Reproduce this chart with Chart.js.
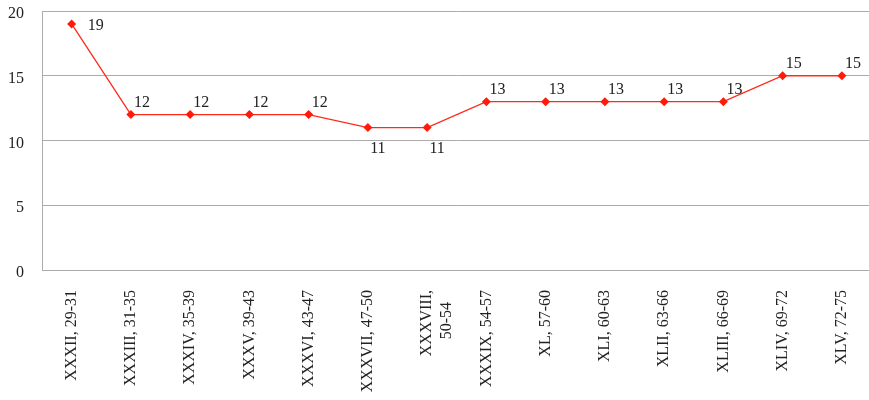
<!DOCTYPE html>
<html>
<head>
<meta charset="utf-8">
<script src="https://cdn.jsdelivr.net/npm/chart.js@4/dist/chart.umd.min.js"></script>
<style>
  html, body { margin: 0; padding: 0; background: #fff; overflow: hidden; }
  #wrap { width: 876px; height: 400px; }
</style>
</head>
<body>
<div id="wrap"><canvas id="chart" width="876" height="400"></canvas></div>
<script>
// Periods (book, years) along the horizontal axis
const categories = [
  'XXXII, 29-31', 'XXXIII, 31-35', 'XXXIV, 35-39', 'XXXV, 39-43', 'XXXVI, 43-47',
  'XXXVII, 47-50', ['XXXVIII,', '50-54   '], 'XXXIX, 54-57', 'XL, 57-60', 'XLI, 60-63',
  'XLII, 63-66', 'XLIII, 66-69', 'XLIV, 69-72', 'XLV, 72-75'
];
// Count per period
const values = [19, 12, 12, 12, 12, 11, 11, 13, 13, 13, 13, 13, 15, 15];
// Vertical axis ticks
const yTicks = [0, 5, 10, 15, 20];

const serif = "'Liberation Serif', 'Times New Roman', serif";
const gridGray = '#ababab';

// Writes each point's value next to its marker
const valueLabels = {
  id: 'valueLabels',
  afterDatasetsDraw(chart) {
    const ctx = chart.ctx;
    const meta = chart.getDatasetMeta(0);
    const ds = chart.data.datasets[0].data;
    const minVal = Math.min(...ds);
    ctx.save();
    ctx.font = '16px ' + serif;
    ctx.fillStyle = '#222';
    ctx.textAlign = 'center';
    ctx.textBaseline = 'middle';
    meta.data.forEach((pt, i) => {
      const v = ds[i];
      let dx = 11, dy = -12;
      if (i === 0) { dx = 24; dy = 2; }
      else if (v === minVal) { dx = 10; dy = 21; }
      ctx.fillText(String(v), pt.x + dx, pt.y + dy);
    });
    ctx.restore();
  }
};

new Chart(document.getElementById('chart'), {
  type: 'line',
  data: {
    labels: categories,
    datasets: [{
      data: values,
      borderColor: '#ff2a1a',
      backgroundColor: '#ff1a0a',
      borderWidth: 1.3,
      pointStyle: 'rectRot',
      pointRadius: 4.5,
      pointHoverRadius: 4.5,
      pointBorderWidth: 0,
      tension: 0,
      fill: false
    }]
  },
  options: {
    responsive: false,
    animation: false,
    events: [],
    layout: { padding: { top: 11, right: 0, left: 0, bottom: 0 } },
    plugins: {
      legend: { display: false },
      tooltip: { enabled: false }
    },
    scales: {
      x: {
        offset: true,
        grid: { display: false, drawTicks: false },
        border: { display: true, color: gridGray, width: 1 },
        ticks: {
          autoSkip: false,
          minRotation: 90,
          maxRotation: 90,
          padding: 20,
          color: '#222',
          font: { family: serif, size: 16 }
        },
        afterFit(scale) {
          scale.height = 130;
          scale.paddingLeft = 0;
          scale.paddingRight = 0;
        }
      },
      y: {
        min: 0,
        max: 20,
        afterBuildTicks(scale) { scale.ticks = yTicks.map(v => ({ value: v })); },
        grid: { color: gridGray, lineWidth: 1, drawTicks: false },
        border: { display: true, color: gridGray, width: 1 },
        ticks: {
          padding: 18,
          labelOffset: 3,
          color: '#222',
          font: { family: serif, size: 16 }
        },
        afterFit(scale) {
          scale.width = 42;
          scale.paddingTop = 0;
          scale.paddingBottom = 0;
        }
      }
    }
  },
  plugins: [valueLabels]
});
</script>
</body>
</html>
